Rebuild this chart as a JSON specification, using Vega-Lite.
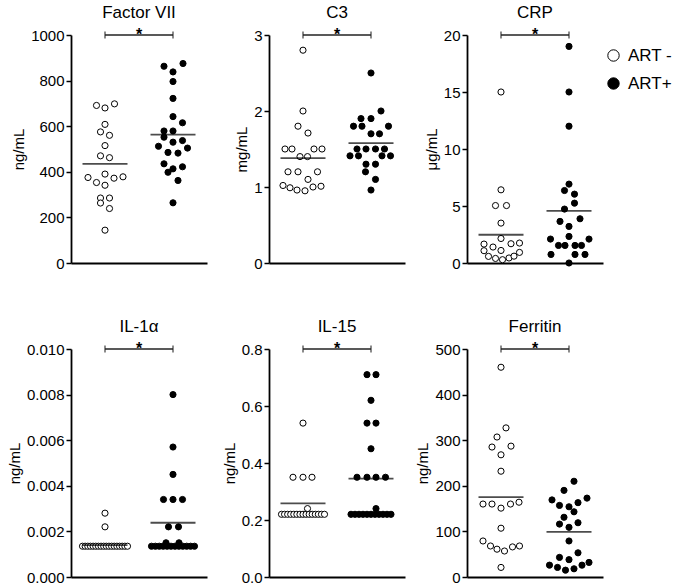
{
  "$schema": "https://vega.github.io/schema/vega-lite/v6.json",
  "background": "white",
  "padding": {"left": 7, "top": 4, "right": 0, "bottom": 0},
  "datasets": {
    "pts": [
      {"p":"Factor VII","g":"ART -","v":698,"j":1.9},{"p":"Factor VII","g":"ART -","v":691,"j":-1.7},{"p":"Factor VII","g":"ART -","v":680,"j":0},{"p":"Factor VII","g":"ART -","v":608,"j":0},{"p":"Factor VII","g":"ART -","v":575,"j":-0.9},{"p":"Factor VII","g":"ART -","v":560,"j":0.9},{"p":"Factor VII","g":"ART -","v":515,"j":0},{"p":"Factor VII","g":"ART -","v":470,"j":-0.9},{"p":"Factor VII","g":"ART -","v":462,"j":0.9},{"p":"Factor VII","g":"ART -","v":390,"j":0},{"p":"Factor VII","g":"ART -","v":378,"j":3.6},{"p":"Factor VII","g":"ART -","v":375,"j":-3.4},{"p":"Factor VII","g":"ART -","v":372,"j":1.8},{"p":"Factor VII","g":"ART -","v":353,"j":-1.7},{"p":"Factor VII","g":"ART -","v":341,"j":0},{"p":"Factor VII","g":"ART -","v":285,"j":-0.9},{"p":"Factor VII","g":"ART -","v":285,"j":0.9},{"p":"Factor VII","g":"ART -","v":263,"j":-0.9},{"p":"Factor VII","g":"ART -","v":239,"j":0.9},{"p":"Factor VII","g":"ART -","v":144,"j":0},
      {"p":"Factor VII","g":"ART+","v":875,"j":2},{"p":"Factor VII","g":"ART+","v":863,"j":-1.8},{"p":"Factor VII","g":"ART+","v":838,"j":0},{"p":"Factor VII","g":"ART+","v":796,"j":0},{"p":"Factor VII","g":"ART+","v":722,"j":0},{"p":"Factor VII","g":"ART+","v":642,"j":0},{"p":"Factor VII","g":"ART+","v":615,"j":1.9},{"p":"Factor VII","g":"ART+","v":579,"j":-1.8},{"p":"Factor VII","g":"ART+","v":579,"j":0},{"p":"Factor VII","g":"ART+","v":552,"j":-1.8},{"p":"Factor VII","g":"ART+","v":537,"j":1.9},{"p":"Factor VII","g":"ART+","v":530,"j":0},{"p":"Factor VII","g":"ART+","v":512,"j":-2.9},{"p":"Factor VII","g":"ART+","v":504,"j":2.9},{"p":"Factor VII","g":"ART+","v":485,"j":-1},{"p":"Factor VII","g":"ART+","v":482,"j":1},{"p":"Factor VII","g":"ART+","v":435,"j":-1.8},{"p":"Factor VII","g":"ART+","v":422,"j":1.9},{"p":"Factor VII","g":"ART+","v":413,"j":0},{"p":"Factor VII","g":"ART+","v":398,"j":-1},{"p":"Factor VII","g":"ART+","v":362,"j":1},{"p":"Factor VII","g":"ART+","v":264,"j":0},
      {"p":"C3","g":"ART -","v":2.8,"j":0},{"p":"C3","g":"ART -","v":2.0,"j":0},{"p":"C3","g":"ART -","v":1.8,"j":-1},{"p":"C3","g":"ART -","v":1.71,"j":1},{"p":"C3","g":"ART -","v":1.5,"j":-3.6},{"p":"C3","g":"ART -","v":1.5,"j":-2.2},{"p":"C3","g":"ART -","v":1.5,"j":2.2},{"p":"C3","g":"ART -","v":1.5,"j":3.8},{"p":"C3","g":"ART -","v":1.4,"j":-0.6},{"p":"C3","g":"ART -","v":1.4,"j":0.9},{"p":"C3","g":"ART -","v":1.2,"j":-3},{"p":"C3","g":"ART -","v":1.2,"j":-1},{"p":"C3","g":"ART -","v":1.2,"j":2.9},{"p":"C3","g":"ART -","v":1.1,"j":1},{"p":"C3","g":"ART -","v":1.02,"j":-4},{"p":"C3","g":"ART -","v":0.99,"j":-2.6},{"p":"C3","g":"ART -","v":0.96,"j":-1.2},{"p":"C3","g":"ART -","v":0.95,"j":0.4},{"p":"C3","g":"ART -","v":1.0,"j":2},{"p":"C3","g":"ART -","v":1.01,"j":3.6},
      {"p":"C3","g":"ART+","v":2.5,"j":0},{"p":"C3","g":"ART+","v":2.0,"j":2},{"p":"C3","g":"ART+","v":1.9,"j":-2},{"p":"C3","g":"ART+","v":1.9,"j":0},{"p":"C3","g":"ART+","v":1.8,"j":-3.5},{"p":"C3","g":"ART+","v":1.8,"j":-1.8},{"p":"C3","g":"ART+","v":1.8,"j":3.5},{"p":"C3","g":"ART+","v":1.7,"j":0},{"p":"C3","g":"ART+","v":1.7,"j":1.7},{"p":"C3","g":"ART+","v":1.5,"j":-2.8},{"p":"C3","g":"ART+","v":1.5,"j":-1},{"p":"C3","g":"ART+","v":1.5,"j":0.9},{"p":"C3","g":"ART+","v":1.5,"j":2.7},{"p":"C3","g":"ART+","v":1.41,"j":-4.2},{"p":"C3","g":"ART+","v":1.41,"j":-2.5},{"p":"C3","g":"ART+","v":1.41,"j":2.2},{"p":"C3","g":"ART+","v":1.41,"j":3.9},{"p":"C3","g":"ART+","v":1.3,"j":-1},{"p":"C3","g":"ART+","v":1.3,"j":0.9},{"p":"C3","g":"ART+","v":1.2,"j":-1.1},{"p":"C3","g":"ART+","v":1.1,"j":0.9},{"p":"C3","g":"ART+","v":0.96,"j":0},
      {"p":"CRP","g":"ART -","v":15,"j":0},{"p":"CRP","g":"ART -","v":6.42,"j":0},{"p":"CRP","g":"ART -","v":5.04,"j":-1.1},{"p":"CRP","g":"ART -","v":5.04,"j":1.1},{"p":"CRP","g":"ART -","v":3.5,"j":0},{"p":"CRP","g":"ART -","v":2.15,"j":0},{"p":"CRP","g":"ART -","v":1.66,"j":-3.4},{"p":"CRP","g":"ART -","v":1.4,"j":-1.6},{"p":"CRP","g":"ART -","v":1.69,"j":2},{"p":"CRP","g":"ART -","v":1.75,"j":3.7},{"p":"CRP","g":"ART -","v":1.08,"j":-3.4},{"p":"CRP","g":"ART -","v":1.1,"j":0},{"p":"CRP","g":"ART -","v":0.93,"j":3.7},{"p":"CRP","g":"ART -","v":0.58,"j":-2.5},{"p":"CRP","g":"ART -","v":0.4,"j":-1.1},{"p":"CRP","g":"ART -","v":0.29,"j":0.3},{"p":"CRP","g":"ART -","v":0.44,"j":1.6},{"p":"CRP","g":"ART -","v":0.6,"j":2.6},
      {"p":"CRP","g":"ART+","v":19,"j":0},{"p":"CRP","g":"ART+","v":15,"j":0},{"p":"CRP","g":"ART+","v":12,"j":0},{"p":"CRP","g":"ART+","v":6.92,"j":0},{"p":"CRP","g":"ART+","v":6.36,"j":-0.9},{"p":"CRP","g":"ART+","v":6.04,"j":1.1},{"p":"CRP","g":"ART+","v":5.25,"j":1.1},{"p":"CRP","g":"ART+","v":4.73,"j":-0.9},{"p":"CRP","g":"ART+","v":3.88,"j":2.2},{"p":"CRP","g":"ART+","v":3.65,"j":-1.8},{"p":"CRP","g":"ART+","v":3.21,"j":0},{"p":"CRP","g":"ART+","v":2.33,"j":0},{"p":"CRP","g":"ART+","v":2.1,"j":-3.7},{"p":"CRP","g":"ART+","v":2.1,"j":4},{"p":"CRP","g":"ART+","v":1.54,"j":-2.1},{"p":"CRP","g":"ART+","v":1.54,"j":-0.8},{"p":"CRP","g":"ART+","v":1.54,"j":1.2},{"p":"CRP","g":"ART+","v":1.54,"j":2.5},{"p":"CRP","g":"ART+","v":0.75,"j":-3.6},{"p":"CRP","g":"ART+","v":0.75,"j":1.2},{"p":"CRP","g":"ART+","v":0.75,"j":3.2},{"p":"CRP","g":"ART+","v":0.0,"j":0},
      {"p":"IL-1α","g":"ART -","v":0.0028,"j":0},{"p":"IL-1α","g":"ART -","v":0.0022,"j":0},{"p":"IL-1α","g":"ART -","v":0.00135,"j":-4.5},{"p":"IL-1α","g":"ART -","v":0.00135,"j":-3.97},{"p":"IL-1α","g":"ART -","v":0.00135,"j":-3.44},{"p":"IL-1α","g":"ART -","v":0.00135,"j":-2.91},{"p":"IL-1α","g":"ART -","v":0.00135,"j":-2.38},{"p":"IL-1α","g":"ART -","v":0.00135,"j":-1.85},{"p":"IL-1α","g":"ART -","v":0.00135,"j":-1.32},{"p":"IL-1α","g":"ART -","v":0.00135,"j":-0.79},{"p":"IL-1α","g":"ART -","v":0.00135,"j":-0.26},{"p":"IL-1α","g":"ART -","v":0.00135,"j":0.26},{"p":"IL-1α","g":"ART -","v":0.00135,"j":0.79},{"p":"IL-1α","g":"ART -","v":0.00135,"j":1.32},{"p":"IL-1α","g":"ART -","v":0.00135,"j":1.85},{"p":"IL-1α","g":"ART -","v":0.00135,"j":2.38},{"p":"IL-1α","g":"ART -","v":0.00135,"j":2.91},{"p":"IL-1α","g":"ART -","v":0.00135,"j":3.44},{"p":"IL-1α","g":"ART -","v":0.00135,"j":3.97},{"p":"IL-1α","g":"ART -","v":0.00135,"j":4.5},
      {"p":"IL-1α","g":"ART+","v":0.008,"j":0},{"p":"IL-1α","g":"ART+","v":0.0057,"j":0},{"p":"IL-1α","g":"ART+","v":0.0045,"j":0},{"p":"IL-1α","g":"ART+","v":0.0034,"j":-1.9},{"p":"IL-1α","g":"ART+","v":0.0034,"j":0},{"p":"IL-1α","g":"ART+","v":0.0034,"j":1.9},{"p":"IL-1α","g":"ART+","v":0.0022,"j":-0.9},{"p":"IL-1α","g":"ART+","v":0.0022,"j":1.1},{"p":"IL-1α","g":"ART+","v":0.0015,"j":-1.4},{"p":"IL-1α","g":"ART+","v":0.0015,"j":1.2},{"p":"IL-1α","g":"ART+","v":0.00135,"j":-4.3},{"p":"IL-1α","g":"ART+","v":0.00135,"j":-3.52},{"p":"IL-1α","g":"ART+","v":0.00135,"j":-2.74},{"p":"IL-1α","g":"ART+","v":0.00135,"j":-1.96},{"p":"IL-1α","g":"ART+","v":0.00135,"j":-1.18},{"p":"IL-1α","g":"ART+","v":0.00135,"j":-0.4},{"p":"IL-1α","g":"ART+","v":0.00135,"j":0.4},{"p":"IL-1α","g":"ART+","v":0.00135,"j":1.18},{"p":"IL-1α","g":"ART+","v":0.00135,"j":1.96},{"p":"IL-1α","g":"ART+","v":0.00135,"j":2.74},{"p":"IL-1α","g":"ART+","v":0.00135,"j":3.52},{"p":"IL-1α","g":"ART+","v":0.00135,"j":4.3},
      {"p":"IL-15","g":"ART -","v":0.54,"j":0},{"p":"IL-15","g":"ART -","v":0.35,"j":-2},{"p":"IL-15","g":"ART -","v":0.35,"j":0},{"p":"IL-15","g":"ART -","v":0.35,"j":1.8},{"p":"IL-15","g":"ART -","v":0.24,"j":0.9},{"p":"IL-15","g":"ART -","v":0.22,"j":-4.3},{"p":"IL-15","g":"ART -","v":0.22,"j":-3.69},{"p":"IL-15","g":"ART -","v":0.22,"j":-3.07},{"p":"IL-15","g":"ART -","v":0.22,"j":-2.46},{"p":"IL-15","g":"ART -","v":0.22,"j":-1.84},{"p":"IL-15","g":"ART -","v":0.22,"j":-1.23},{"p":"IL-15","g":"ART -","v":0.22,"j":-0.61},{"p":"IL-15","g":"ART -","v":0.22,"j":0},{"p":"IL-15","g":"ART -","v":0.22,"j":0.61},{"p":"IL-15","g":"ART -","v":0.22,"j":1.23},{"p":"IL-15","g":"ART -","v":0.22,"j":1.84},{"p":"IL-15","g":"ART -","v":0.22,"j":2.46},{"p":"IL-15","g":"ART -","v":0.22,"j":3.07},{"p":"IL-15","g":"ART -","v":0.22,"j":3.69},{"p":"IL-15","g":"ART -","v":0.22,"j":4.3},
      {"p":"IL-15","g":"ART+","v":0.71,"j":-0.8},{"p":"IL-15","g":"ART+","v":0.71,"j":1},{"p":"IL-15","g":"ART+","v":0.62,"j":0},{"p":"IL-15","g":"ART+","v":0.54,"j":-0.8},{"p":"IL-15","g":"ART+","v":0.54,"j":1},{"p":"IL-15","g":"ART+","v":0.45,"j":0},{"p":"IL-15","g":"ART+","v":0.35,"j":-2.8},{"p":"IL-15","g":"ART+","v":0.35,"j":-0.8},{"p":"IL-15","g":"ART+","v":0.35,"j":1},{"p":"IL-15","g":"ART+","v":0.35,"j":2.9},{"p":"IL-15","g":"ART+","v":0.24,"j":1},{"p":"IL-15","g":"ART+","v":0.22,"j":-4},{"p":"IL-15","g":"ART+","v":0.22,"j":-3.2},{"p":"IL-15","g":"ART+","v":0.22,"j":-2.4},{"p":"IL-15","g":"ART+","v":0.22,"j":-1.6},{"p":"IL-15","g":"ART+","v":0.22,"j":-0.8},{"p":"IL-15","g":"ART+","v":0.22,"j":0},{"p":"IL-15","g":"ART+","v":0.22,"j":0.8},{"p":"IL-15","g":"ART+","v":0.22,"j":1.6},{"p":"IL-15","g":"ART+","v":0.22,"j":2.4},{"p":"IL-15","g":"ART+","v":0.22,"j":3.2},{"p":"IL-15","g":"ART+","v":0.22,"j":4},
      {"p":"Ferritin","g":"ART -","v":460,"j":0},{"p":"Ferritin","g":"ART -","v":327,"j":1},{"p":"Ferritin","g":"ART -","v":307,"j":-0.8},{"p":"Ferritin","g":"ART -","v":285,"j":-1.8},{"p":"Ferritin","g":"ART -","v":287,"j":2},{"p":"Ferritin","g":"ART -","v":268,"j":0},{"p":"Ferritin","g":"ART -","v":232,"j":0},{"p":"Ferritin","g":"ART -","v":160,"j":-3.6},{"p":"Ferritin","g":"ART -","v":160,"j":-1.8},{"p":"Ferritin","g":"ART -","v":151,"j":0},{"p":"Ferritin","g":"ART -","v":160,"j":1.9},{"p":"Ferritin","g":"ART -","v":164,"j":3.6},{"p":"Ferritin","g":"ART -","v":107,"j":0},{"p":"Ferritin","g":"ART -","v":79,"j":-3.6},{"p":"Ferritin","g":"ART -","v":68,"j":-2.1},{"p":"Ferritin","g":"ART -","v":61,"j":-0.8},{"p":"Ferritin","g":"ART -","v":57,"j":0.7},{"p":"Ferritin","g":"ART -","v":66,"j":2.3},{"p":"Ferritin","g":"ART -","v":68,"j":3.7},{"p":"Ferritin","g":"ART -","v":21,"j":0},
      {"p":"Ferritin","g":"ART+","v":210,"j":1},{"p":"Ferritin","g":"ART+","v":190,"j":-1},{"p":"Ferritin","g":"ART+","v":169,"j":-3.4},{"p":"Ferritin","g":"ART+","v":173,"j":3.6},{"p":"Ferritin","g":"ART+","v":157,"j":-1.9},{"p":"Ferritin","g":"ART+","v":154,"j":0},{"p":"Ferritin","g":"ART+","v":163,"j":1.8},{"p":"Ferritin","g":"ART+","v":143,"j":1},{"p":"Ferritin","g":"ART+","v":131,"j":-1},{"p":"Ferritin","g":"ART+","v":116,"j":-1.9},{"p":"Ferritin","g":"ART+","v":119,"j":1.8},{"p":"Ferritin","g":"ART+","v":109,"j":0},{"p":"Ferritin","g":"ART+","v":79,"j":0},{"p":"Ferritin","g":"ART+","v":43,"j":-1.9},{"p":"Ferritin","g":"ART+","v":53,"j":1.8},{"p":"Ferritin","g":"ART+","v":38,"j":0},{"p":"Ferritin","g":"ART+","v":26,"j":-3.9},{"p":"Ferritin","g":"ART+","v":21,"j":-2.3},{"p":"Ferritin","g":"ART+","v":15,"j":-0.7},{"p":"Ferritin","g":"ART+","v":18,"j":1},{"p":"Ferritin","g":"ART+","v":26,"j":2.6},{"p":"Ferritin","g":"ART+","v":32,"j":4}
    ],
    "med": [
      {"p":"Factor VII","g":"ART -","v":435},{"p":"Factor VII","g":"ART+","v":563},
      {"p":"C3","g":"ART -","v":1.38},{"p":"C3","g":"ART+","v":1.577},
      {"p":"CRP","g":"ART -","v":2.48},{"p":"CRP","g":"ART+","v":4.58},
      {"p":"IL-1α","g":"ART -","v":0.0014},{"p":"IL-1α","g":"ART+","v":0.00238},
      {"p":"IL-15","g":"ART -","v":0.258},{"p":"IL-15","g":"ART+","v":0.345},
      {"p":"Ferritin","g":"ART -","v":175},{"p":"Ferritin","g":"ART+","v":99}
    ],
    "brk": [
      {"p":"Factor VII","g":"ART -","v":1000},{"p":"Factor VII","g":"ART+","v":1000},
      {"p":"C3","g":"ART -","v":3},{"p":"C3","g":"ART+","v":3},
      {"p":"CRP","g":"ART -","v":20},{"p":"CRP","g":"ART+","v":20},
      {"p":"IL-1α","g":"ART -","v":0.01},{"p":"IL-1α","g":"ART+","v":0.01},
      {"p":"IL-15","g":"ART -","v":0.8},{"p":"IL-15","g":"ART+","v":0.8},
      {"p":"Ferritin","g":"ART -","v":500},{"p":"Ferritin","g":"ART+","v":500}
    ]
  },
  "columns": 3,
  "spacing": {"row": 86, "column": 62},
  "bounds": "flush",
  "resolve": {"scale": {"x": "independent", "y": "independent", "xOffset": "independent", "fill": "shared"}, "legend": {"fill": "shared"}},
  "concat": [
    {"title": "Factor VII", "width": 136, "height": 228,
     "layer": [
      {"data": {"name": "pts"}, "transform": [{"filter": "datum.p === 'Factor VII'"}], "mark": {"type": "circle", "size": 38, "stroke": "black", "strokeWidth": 1, "opacity": 1},
       "encoding": {"x": {"field": "g", "type": "nominal", "scale": {"domain": ["ART -", "ART+"], "paddingInner": 0, "paddingOuter": 0}, "axis": {"labels": false, "ticks": false, "title": null}},
        "xOffset": {"field": "j", "type": "quantitative", "scale": {"domain": [-6.8, 6.8]}},
        "y": {"field": "v", "type": "quantitative", "scale": {"domain": [0, 1000], "nice": false}, "axis": {"values": [0, 200, 400, 600, 800, 1000], "format": "d", "title": "ng/mL"}},
        "fill": {"field": "g", "type": "nominal", "title": null, "scale": {"domain": ["ART -", "ART+"], "range": ["white", "black"]}}}},
      {"data": {"name": "med"}, "transform": [{"filter": "datum.p === 'Factor VII'"}], "mark": {"type": "tick", "size": 45, "thickness": 1.8, "color": "black"}, "encoding": {"x": {"field": "g", "type": "nominal"}, "y": {"field": "v", "type": "quantitative"}}},
      {"data": {"name": "brk"}, "transform": [{"filter": "datum.p === 'Factor VII'"}], "mark": {"type": "line", "strokeWidth": 1.6, "color": "#222"}, "encoding": {"x": {"field": "g", "type": "nominal"}, "y": {"field": "v", "type": "quantitative"}}},
      {"data": {"name": "brk"}, "transform": [{"filter": "datum.p === 'Factor VII'"}], "mark": {"type": "tick", "orient": "vertical", "size": 7, "thickness": 1.5, "color": "#222"}, "encoding": {"x": {"field": "g", "type": "nominal"}, "y": {"field": "v", "type": "quantitative"}}},
      {"data": {"name": "brk"}, "transform": [{"filter": "datum.p === 'Factor VII' && datum.g === 'ART+'"}], "mark": {"type": "text", "text": "*", "fontSize": 16, "fontWeight": "bold", "baseline": "alphabetic", "dy": 5, "font": "Liberation Sans"}, "encoding": {"x": {"field": "g", "type": "nominal", "bandPosition": 0}, "y": {"field": "v", "type": "quantitative"}}}
     ]},
    {"title": "C3", "width": 136, "height": 228,
     "layer": [
      {"data": {"name": "pts"}, "transform": [{"filter": "datum.p === 'C3'"}], "mark": {"type": "circle", "size": 38, "stroke": "black", "strokeWidth": 1, "opacity": 1},
       "encoding": {"x": {"field": "g", "type": "nominal", "scale": {"domain": ["ART -", "ART+"], "paddingInner": 0, "paddingOuter": 0}, "axis": {"labels": false, "ticks": false, "title": null}},
        "xOffset": {"field": "j", "type": "quantitative", "scale": {"domain": [-6.8, 6.8]}},
        "y": {"field": "v", "type": "quantitative", "scale": {"domain": [0, 3], "nice": false}, "axis": {"values": [0, 1, 2, 3], "format": "d", "title": "mg/mL"}},
        "fill": {"field": "g", "type": "nominal", "title": null, "scale": {"domain": ["ART -", "ART+"], "range": ["white", "black"]}}}},
      {"data": {"name": "med"}, "transform": [{"filter": "datum.p === 'C3'"}], "mark": {"type": "tick", "size": 45, "thickness": 1.8, "color": "black"}, "encoding": {"x": {"field": "g", "type": "nominal"}, "y": {"field": "v", "type": "quantitative"}}},
      {"data": {"name": "brk"}, "transform": [{"filter": "datum.p === 'C3'"}], "mark": {"type": "line", "strokeWidth": 1.6, "color": "#222"}, "encoding": {"x": {"field": "g", "type": "nominal"}, "y": {"field": "v", "type": "quantitative"}}},
      {"data": {"name": "brk"}, "transform": [{"filter": "datum.p === 'C3'"}], "mark": {"type": "tick", "orient": "vertical", "size": 7, "thickness": 1.5, "color": "#222"}, "encoding": {"x": {"field": "g", "type": "nominal"}, "y": {"field": "v", "type": "quantitative"}}},
      {"data": {"name": "brk"}, "transform": [{"filter": "datum.p === 'C3' && datum.g === 'ART+'"}], "mark": {"type": "text", "text": "*", "fontSize": 16, "fontWeight": "bold", "baseline": "alphabetic", "dy": 5, "font": "Liberation Sans"}, "encoding": {"x": {"field": "g", "type": "nominal", "bandPosition": 0}, "y": {"field": "v", "type": "quantitative"}}}
     ]},
    {"title": "CRP", "width": 136, "height": 228,
     "layer": [
      {"data": {"name": "pts"}, "transform": [{"filter": "datum.p === 'CRP'"}], "mark": {"type": "circle", "size": 38, "stroke": "black", "strokeWidth": 1, "opacity": 1},
       "encoding": {"x": {"field": "g", "type": "nominal", "scale": {"domain": ["ART -", "ART+"], "paddingInner": 0, "paddingOuter": 0}, "axis": {"labels": false, "ticks": false, "title": null}},
        "xOffset": {"field": "j", "type": "quantitative", "scale": {"domain": [-6.8, 6.8]}},
        "y": {"field": "v", "type": "quantitative", "scale": {"domain": [0, 20], "nice": false}, "axis": {"values": [0, 5, 10, 15, 20], "format": "d", "title": "μg/mL"}},
        "fill": {"field": "g", "type": "nominal", "title": null, "scale": {"domain": ["ART -", "ART+"], "range": ["white", "black"]}}}},
      {"data": {"name": "med"}, "transform": [{"filter": "datum.p === 'CRP'"}], "mark": {"type": "tick", "size": 45, "thickness": 1.8, "color": "black"}, "encoding": {"x": {"field": "g", "type": "nominal"}, "y": {"field": "v", "type": "quantitative"}}},
      {"data": {"name": "brk"}, "transform": [{"filter": "datum.p === 'CRP'"}], "mark": {"type": "line", "strokeWidth": 1.6, "color": "#222"}, "encoding": {"x": {"field": "g", "type": "nominal"}, "y": {"field": "v", "type": "quantitative"}}},
      {"data": {"name": "brk"}, "transform": [{"filter": "datum.p === 'CRP'"}], "mark": {"type": "tick", "orient": "vertical", "size": 7, "thickness": 1.5, "color": "#222"}, "encoding": {"x": {"field": "g", "type": "nominal"}, "y": {"field": "v", "type": "quantitative"}}},
      {"data": {"name": "brk"}, "transform": [{"filter": "datum.p === 'CRP' && datum.g === 'ART+'"}], "mark": {"type": "text", "text": "*", "fontSize": 16, "fontWeight": "bold", "baseline": "alphabetic", "dy": 5, "font": "Liberation Sans"}, "encoding": {"x": {"field": "g", "type": "nominal", "bandPosition": 0}, "y": {"field": "v", "type": "quantitative"}}}
     ]},
    {"title": "IL-1α", "width": 136, "height": 228,
     "layer": [
      {"data": {"name": "pts"}, "transform": [{"filter": "datum.p === 'IL-1α'"}], "mark": {"type": "circle", "size": 38, "stroke": "black", "strokeWidth": 1, "opacity": 1},
       "encoding": {"x": {"field": "g", "type": "nominal", "scale": {"domain": ["ART -", "ART+"], "paddingInner": 0, "paddingOuter": 0}, "axis": {"labels": false, "ticks": false, "title": null}},
        "xOffset": {"field": "j", "type": "quantitative", "scale": {"domain": [-6.8, 6.8]}},
        "y": {"field": "v", "type": "quantitative", "scale": {"domain": [0, 0.01], "nice": false}, "axis": {"values": [0, 0.002, 0.004, 0.006, 0.008, 0.01], "format": ".3f", "title": "ng/mL"}},
        "fill": {"field": "g", "type": "nominal", "title": null, "scale": {"domain": ["ART -", "ART+"], "range": ["white", "black"]}}}},
      {"data": {"name": "med"}, "transform": [{"filter": "datum.p === 'IL-1α'"}], "mark": {"type": "tick", "size": 45, "thickness": 1.8, "color": "black"}, "encoding": {"x": {"field": "g", "type": "nominal"}, "y": {"field": "v", "type": "quantitative"}}},
      {"data": {"name": "brk"}, "transform": [{"filter": "datum.p === 'IL-1α'"}], "mark": {"type": "line", "strokeWidth": 1.6, "color": "#222"}, "encoding": {"x": {"field": "g", "type": "nominal"}, "y": {"field": "v", "type": "quantitative"}}},
      {"data": {"name": "brk"}, "transform": [{"filter": "datum.p === 'IL-1α'"}], "mark": {"type": "tick", "orient": "vertical", "size": 7, "thickness": 1.5, "color": "#222"}, "encoding": {"x": {"field": "g", "type": "nominal"}, "y": {"field": "v", "type": "quantitative"}}},
      {"data": {"name": "brk"}, "transform": [{"filter": "datum.p === 'IL-1α' && datum.g === 'ART+'"}], "mark": {"type": "text", "text": "*", "fontSize": 16, "fontWeight": "bold", "baseline": "alphabetic", "dy": 5, "font": "Liberation Sans"}, "encoding": {"x": {"field": "g", "type": "nominal", "bandPosition": 0}, "y": {"field": "v", "type": "quantitative"}}}
     ]},
    {"title": "IL-15", "width": 136, "height": 228,
     "layer": [
      {"data": {"name": "pts"}, "transform": [{"filter": "datum.p === 'IL-15'"}], "mark": {"type": "circle", "size": 38, "stroke": "black", "strokeWidth": 1, "opacity": 1},
       "encoding": {"x": {"field": "g", "type": "nominal", "scale": {"domain": ["ART -", "ART+"], "paddingInner": 0, "paddingOuter": 0}, "axis": {"labels": false, "ticks": false, "title": null}},
        "xOffset": {"field": "j", "type": "quantitative", "scale": {"domain": [-6.8, 6.8]}},
        "y": {"field": "v", "type": "quantitative", "scale": {"domain": [0, 0.8], "nice": false}, "axis": {"values": [0, 0.2, 0.4, 0.6, 0.8], "format": ".1f", "title": "ng/mL"}},
        "fill": {"field": "g", "type": "nominal", "title": null, "scale": {"domain": ["ART -", "ART+"], "range": ["white", "black"]}}}},
      {"data": {"name": "med"}, "transform": [{"filter": "datum.p === 'IL-15'"}], "mark": {"type": "tick", "size": 45, "thickness": 1.8, "color": "black"}, "encoding": {"x": {"field": "g", "type": "nominal"}, "y": {"field": "v", "type": "quantitative"}}},
      {"data": {"name": "brk"}, "transform": [{"filter": "datum.p === 'IL-15'"}], "mark": {"type": "line", "strokeWidth": 1.6, "color": "#222"}, "encoding": {"x": {"field": "g", "type": "nominal"}, "y": {"field": "v", "type": "quantitative"}}},
      {"data": {"name": "brk"}, "transform": [{"filter": "datum.p === 'IL-15'"}], "mark": {"type": "tick", "orient": "vertical", "size": 7, "thickness": 1.5, "color": "#222"}, "encoding": {"x": {"field": "g", "type": "nominal"}, "y": {"field": "v", "type": "quantitative"}}},
      {"data": {"name": "brk"}, "transform": [{"filter": "datum.p === 'IL-15' && datum.g === 'ART+'"}], "mark": {"type": "text", "text": "*", "fontSize": 16, "fontWeight": "bold", "baseline": "alphabetic", "dy": 5, "font": "Liberation Sans"}, "encoding": {"x": {"field": "g", "type": "nominal", "bandPosition": 0}, "y": {"field": "v", "type": "quantitative"}}}
     ]},
    {"title": "Ferritin", "width": 136, "height": 228,
     "layer": [
      {"data": {"name": "pts"}, "transform": [{"filter": "datum.p === 'Ferritin'"}], "mark": {"type": "circle", "size": 38, "stroke": "black", "strokeWidth": 1, "opacity": 1},
       "encoding": {"x": {"field": "g", "type": "nominal", "scale": {"domain": ["ART -", "ART+"], "paddingInner": 0, "paddingOuter": 0}, "axis": {"labels": false, "ticks": false, "title": null}},
        "xOffset": {"field": "j", "type": "quantitative", "scale": {"domain": [-6.8, 6.8]}},
        "y": {"field": "v", "type": "quantitative", "scale": {"domain": [0, 500], "nice": false}, "axis": {"values": [0, 100, 200, 300, 400, 500], "format": "d", "title": "ng/mL"}},
        "fill": {"field": "g", "type": "nominal", "title": null, "scale": {"domain": ["ART -", "ART+"], "range": ["white", "black"]}}}},
      {"data": {"name": "med"}, "transform": [{"filter": "datum.p === 'Ferritin'"}], "mark": {"type": "tick", "size": 45, "thickness": 1.8, "color": "black"}, "encoding": {"x": {"field": "g", "type": "nominal"}, "y": {"field": "v", "type": "quantitative"}}},
      {"data": {"name": "brk"}, "transform": [{"filter": "datum.p === 'Ferritin'"}], "mark": {"type": "line", "strokeWidth": 1.6, "color": "#222"}, "encoding": {"x": {"field": "g", "type": "nominal"}, "y": {"field": "v", "type": "quantitative"}}},
      {"data": {"name": "brk"}, "transform": [{"filter": "datum.p === 'Ferritin'"}], "mark": {"type": "tick", "orient": "vertical", "size": 7, "thickness": 1.5, "color": "#222"}, "encoding": {"x": {"field": "g", "type": "nominal"}, "y": {"field": "v", "type": "quantitative"}}},
      {"data": {"name": "brk"}, "transform": [{"filter": "datum.p === 'Ferritin' && datum.g === 'ART+'"}], "mark": {"type": "text", "text": "*", "fontSize": 16, "fontWeight": "bold", "baseline": "alphabetic", "dy": 5, "font": "Liberation Sans"}, "encoding": {"x": {"field": "g", "type": "nominal", "bandPosition": 0}, "y": {"field": "v", "type": "quantitative"}}}
     ]}
  ],
  "config": {
    "font": "Liberation Sans",
    "view": {"stroke": null},
    "title": {"fontSize": 17, "font": "Liberation Sans", "fontWeight": "normal", "color": "black", "offset": 5},
    "axis": {"grid": false, "domainColor": "black", "domainWidth": 1.8, "tickColor": "black", "tickWidth": 1.5, "tickSize": 5, "labelFont": "Liberation Sans", "labelFontSize": 15, "labelColor": "black", "labelPadding": 2, "titleFont": "Liberation Sans", "titleFontSize": 15, "titleFontWeight": "normal", "titleColor": "black", "titlePadding": 4},
    "legend": {"orient": "none", "legendX": 534, "legendY": 12, "padding": 0, "symbolType": "circle", "symbolSize": 130, "symbolStrokeColor": "black", "symbolStrokeWidth": 1, "labelFontSize": 17, "labelFont": "Liberation Sans", "labelColor": "black", "labelOffset": 6, "rowPadding": 10}
  }
}
